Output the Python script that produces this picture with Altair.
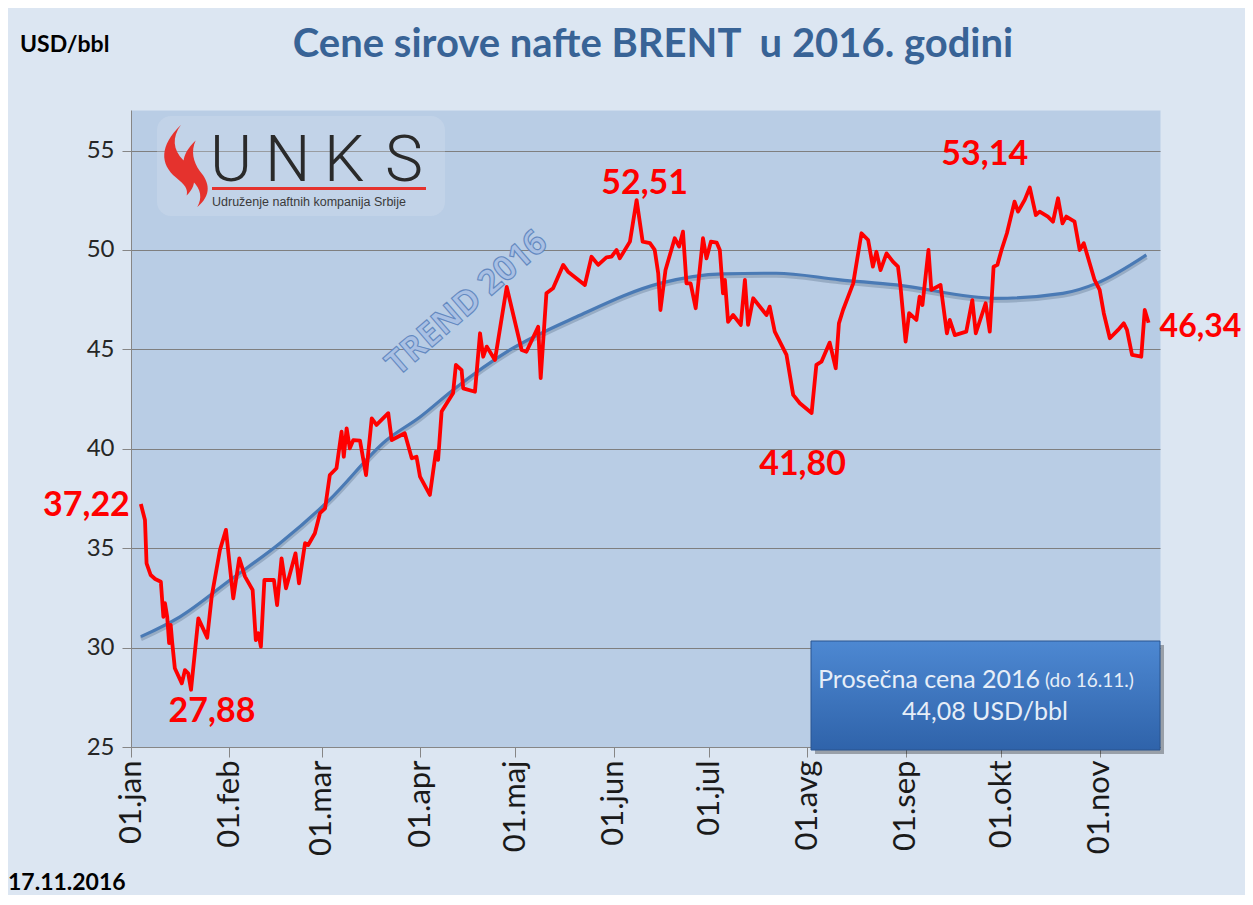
import altair as alt
import pandas as pd

# ---------------- data ----------------
# days after 1 Jan 2016 (vertices of the Brent price line) and USD/bbl
price_day = [3.1, 4.4, 4.9, 6.2, 7.6, 9.4, 10.2, 10.7, 11.4, 12.0, 12.5, 13.0, 13.8, 16.0, 17.0, 18.0, 18.9,
             21.2, 24.0, 25.4, 28.0, 29.9, 32.2, 34.1, 35.9, 38.3, 39.3, 40.1, 40.9, 42.0, 45.0, 46.0, 47.4,
             48.8, 51.8, 52.9, 54.8, 55.8, 57.9, 59.5, 61.1, 62.6, 64.7, 66.3, 67.0, 67.9, 68.9, 70.0, 72.1,
             74.0, 75.8, 77.3, 81.0, 82.1, 86.2, 88.4, 89.9, 91.0, 94.1, 96.0, 96.7, 97.8, 101.4, 102.3, 104.1,
             104.6, 108.3, 109.9, 110.9, 112.0, 114.6, 118.3, 123.0, 124.5, 128.2, 129.0, 130.8, 132.9, 136.1,
             137.6, 142.9, 145.0, 147.1, 149.7, 151.3, 152.9, 153.9, 157.1, 159.2, 161.1, 163.4, 164.9, 166.0,
             166.7, 168.3, 171.2, 172.6, 173.8, 174.9, 176.2, 177.8, 180.1, 181.2, 182.6, 184.4, 185.4, 186.4,
             187.0, 188.0, 189.6, 192.0, 193.3, 194.3, 195.9, 200.1, 201.1, 202.7, 206.4, 208.5, 210.6, 214.3,
             215.8, 217.4, 220.0, 221.9, 222.9, 224.2, 227.4, 230.0, 232.1, 233.6, 234.7, 236.0, 237.9, 239.9,
             241.5, 242.3, 243.9, 245.0, 247.3, 248.3, 249.2, 251.1, 252.0, 254.9, 256.9, 257.8, 259.4, 263.0,
             264.9, 266.0, 269.1, 270.4, 271.6, 272.8, 274.1, 275.8, 278.2, 279.3, 281.4, 283.0, 284.9, 286.1,
             288.7, 290.3, 291.9, 293.3, 294.5, 297.1, 298.7, 300.0, 303.4, 305.0, 306.3, 308.2, 310.8, 312.6,
             313.6, 315.2, 318.1, 319.2, 320.4]
price_usd = [37.22, 36.42, 34.24, 33.65, 33.45, 33.31, 31.55, 32.23, 31.55, 30.22, 31.14, 30.22, 28.96, 28.20,
             28.87, 28.71, 27.88, 31.47, 30.50, 32.56, 34.91, 35.92, 32.48, 34.49, 33.57, 32.90, 30.38, 30.72,
             30.05, 33.40, 33.40, 32.14, 34.49, 32.98, 34.74, 33.23, 35.25, 35.16, 35.75, 36.76, 37.00, 38.68,
             39.02, 40.86, 39.60, 41.03, 40.02, 40.44, 40.41, 38.68, 41.53, 41.20, 41.79, 40.44, 40.78, 39.52,
             39.60, 38.60, 37.68, 39.85, 39.44, 41.87, 42.79, 44.22, 43.96, 43.04, 42.87, 45.81, 44.63, 45.14,
             44.47, 48.14, 44.97, 44.88, 46.14, 43.55, 47.82, 48.07, 49.25, 48.91, 48.24, 49.66, 49.25, 49.63,
             49.66, 50.00, 49.58, 50.42, 52.51, 50.42, 50.34, 50.00, 48.83, 46.98, 48.99, 50.59, 50.17, 50.92,
             48.32, 48.32, 47.07, 50.59, 49.58, 50.42, 50.37, 50.00, 47.82, 48.49, 46.39, 46.73, 46.23, 48.49,
             46.23, 47.57, 46.73, 47.15, 45.89, 44.72, 42.71, 42.29, 41.80, 44.22, 44.38, 45.34, 44.05, 46.31,
             46.98, 48.32, 50.84, 50.50, 49.16, 49.91, 48.99, 49.83, 49.41, 49.16, 48.15, 45.39, 46.82, 46.48,
             47.65, 47.23, 50.00, 47.99, 48.24, 45.81, 46.48, 45.72, 45.89, 47.48, 45.81, 47.32, 45.89, 49.16,
             49.25, 50.00, 50.84, 52.43, 51.93, 52.52, 53.14, 51.76, 51.93, 51.68, 51.42, 52.60, 51.34, 51.68,
             51.42, 50.00, 50.34, 48.49, 47.99, 46.82, 45.56, 45.98, 46.31, 45.98, 44.72, 44.63, 46.98, 46.34]

# polynomial trend line as drawn in the reference
trend_day = [3.1, 15.4, 31.2, 46.9, 62.3, 80.5, 91.0, 101.4, 119.3, 140.3, 166.5, 186.4, 203.2, 223.2,
             241.0, 272.5, 293.4, 304.0, 319.7]
trend_usd = [30.55, 31.55, 33.40, 35.25, 37.40, 40.44, 41.60, 42.96, 44.97, 46.64, 48.32, 48.80, 48.83,
             48.50, 48.24, 47.57, 47.82, 48.32, 49.75]

# annotated extremes (first, min, max, min, max, last)
extreme_day = [3.1, 18.9, 159.2, 214.3, 283.0, 320.4]
extreme_usd = [37.22, 27.88, 52.51, 41.80, 53.14, 46.34]

month_labels = ["jan", "feb", "mar", "apr", "maj", "jun", "jul", "avg", "sep", "okt", "nov", "dec"]
y_ticks = [25, 30, 35, 40, 45, 50, 55]
avg_price = 44.08

title_text = "Cene sirove nafte BRENT\u00a0 u 2016. godini"
unit_text = "USD/bbl"
date_stamp = "17.11.2016"
trend_text = "TREND 2016"
box_line1 = "Prosečna cena 2016"
box_line1b = "(do 16.11.)"
logo_letters = ["U", "N", "K", "S"]
logo_sub = "Udruženje naftnih kompanija Srbije"

# ---------------- helpers ----------------
origin = pd.Timestamp("2016-01-01")


def to_dates(days):
    return [(origin + pd.Timedelta(days=d)).strftime("%Y-%m-%dT%H:%M:%S") for d in days]


def comma(v):
    return f"{v:.2f}".replace(".", ",")


price_df = pd.DataFrame({"date": to_dates(price_day), "usd": price_usd})
trend_df = pd.DataFrame({"date": to_dates(trend_day), "usd": trend_usd})
ext_df = pd.DataFrame({"date": to_dates(extreme_day), "usd": extreme_usd,
                       "label": [comma(v) for v in extreme_usd]})
one = pd.DataFrame({"k": [0]})

W, H = 1029, 637
FONT = "Lato"

x_scale = alt.Scale(domain=[alt.DateTime(year=2016, month=1, date=1),
                            alt.DateTime(year=2016, month=11, date=20)], nice=False)
y_scale = alt.Scale(domain=[25, 57.04], nice=False, zero=False)

month_js = "[" + ",".join(f"'{m}'" for m in month_labels) + "]"
x_axis = alt.Axis(values=[alt.DateTime(year=2016, month=m, date=1) for m in range(1, 12)],
                  labelExpr=f"'01.' + {month_js}[month(datum.value)]",
                  labelAngle=270, labelAlign="right", labelBaseline="middle",
                  labelFont=FONT, labelFontSize=31, labelColor="#1a1a1a", labelPadding=3,
                  labelFlush=False, labelOverlap=False,
                  tickSize=10, tickColor="#868686", domainColor="#868686", grid=False, title=None)
y_axis = alt.Axis(values=y_ticks, labelFont=FONT, labelFontSize=24, labelColor="#262626",
                  labelPadding=8, labelFlush=False, tickSize=9, tickColor="#868686",
                  domainColor="#868686", grid=True, gridColor="#7F7F7F", gridWidth=1, title=None)

X = alt.X("date:T", scale=x_scale, axis=x_axis)
Y = alt.Y("usd:Q", scale=y_scale, axis=y_axis)
Xn = alt.X("date:T", scale=x_scale)
Yn = alt.Y("usd:Q", scale=y_scale)

# ---------------- logo ----------------
flame_path = ("M -0.1,-1 C -0.62,-0.5 -0.62,-0.05 -0.22,0.28 C 0,0.46 0.08,0.56 0.04,0.72 "
              "C 0.36,0.42 0.22,0.1 -0.04,-0.14 C -0.3,-0.4 -0.32,-0.7 -0.1,-1 Z "
              "M 0.26,-0.62 C -0.12,-0.26 -0.12,0.06 0.18,0.36 C 0.4,0.56 0.42,0.8 0.3,1 "
              "C 0.66,0.7 0.6,0.4 0.36,0.12 C 0.2,-0.1 0.14,-0.36 0.26,-0.62 Z")

logo_glow = alt.Chart(one).mark_rect(fill="#D6E1EE", opacity=0.3, cornerRadius=14).encode(
    x=alt.value(26), x2=alt.value(314), y=alt.value(6), y2=alt.value(106))
flame = alt.Chart(one).mark_point(shape=flame_path, filled=True, fill="#E5322D", opacity=1,
                                  strokeWidth=0, size=6724).encode(x=alt.value(54), y=alt.value(56))
letter_x = [79, 134, 193, 254]
logo_layers = [
    alt.Chart(one).mark_text(text=ch, font="Roboto", fontWeight=300, fontSize=64, color="#2A2A2A",
                             align="left", baseline="alphabetic").encode(x=alt.value(lx), y=alt.value(71))
    for ch, lx in zip(logo_letters, letter_x)
]
unks_bar = alt.Chart(one).mark_rect(fill="#E5322D").encode(
    x=alt.value(81), x2=alt.value(295), y=alt.value(77), y2=alt.value(80))
unks_sub = alt.Chart(one).mark_text(text=logo_sub, font="Liberation Sans", fontSize=12.5,
                                    color="#3A3A3A", align="left", baseline="middle").encode(
    x=alt.value(81), y=alt.value(92))

# ---------------- lines ----------------
trend_text_layer = alt.Chart(pd.DataFrame({"date": to_dates([105.8]), "usd": [47.3]})).mark_text(
    text=trend_text, font="Open Sans", fontWeight="bold", fontSize=34, angle=319,
    fill="#A9C0E4", stroke="#5F86BF", strokeWidth=1.1, opacity=0.95).encode(x=Xn, y=Yn)

trend_shadow = alt.Chart(trend_df).mark_line(interpolate="monotone", color="#1F3550", opacity=0.22,
                                             strokeWidth=5, yOffset=2).encode(x=Xn, y=Yn)
trend = alt.Chart(trend_df).mark_line(interpolate="monotone", color="#4A7AB5",
                                      strokeWidth=3.2).encode(x=Xn, y=Yn)
price = alt.Chart(price_df).mark_line(color="#FF0000", strokeWidth=3.8, strokeJoin="round").encode(x=X, y=Y)

# ---------------- extreme labels ----------------
label_offsets = [("right", -11, 2, 34), ("center", 21, 22, 34), ("center", 8, -16, 34),
                 ("center", -9, 52, 34), ("center", -45, -33, 34), ("left", 11, 4, 32)]
label_layers = []
for i, (al, ddx, ddy, fs) in enumerate(label_offsets):
    label_layers.append(
        alt.Chart(ext_df.iloc[[i]]).mark_text(font=FONT, fontWeight="bold", fontSize=fs, color="#FF0000",
                                              align=al, baseline="middle", dx=ddx, dy=ddy).encode(
            x=Xn, y=Yn, text="label:N"))

# ---------------- average box ----------------
box_shadow = alt.Chart(one).mark_rect(fill="#000000", opacity=0.3).encode(
    x=alt.value(684), x2=alt.value(1033), y=alt.value(535), y2=alt.value(644))
box = alt.Chart(one).mark_rect(
    fill=alt.LinearGradient(gradient="linear", x1=0, y1=0, x2=0, y2=1,
                            stops=[alt.GradientStop(color="#4D88D2", offset=0),
                                   alt.GradientStop(color="#2F63AA", offset=1)]),
    stroke="#2A558F", strokeWidth=1).encode(
    x=alt.value(680), x2=alt.value(1029), y=alt.value(531), y2=alt.value(640))
box_t1 = alt.Chart(one).mark_text(text=box_line1, font=FONT, fontSize=25, color="#E6EEF8",
                                  align="right", baseline="middle").encode(x=alt.value(909), y=alt.value(570))
box_t1b = alt.Chart(one).mark_text(text=box_line1b, font=FONT, fontSize=19, color="#E6EEF8",
                                   align="left", baseline="middle").encode(x=alt.value(914), y=alt.value(571))
box_t2 = alt.Chart(one).mark_text(text=comma(avg_price) + " " + unit_text, font=FONT, fontSize=25,
                                  color="#E6EEF8", align="center", baseline="middle").encode(
    x=alt.value(854), y=alt.value(602))

# ---------------- titles / stamps ----------------
title = alt.Chart(one).mark_text(text=title_text, font=FONT, fontWeight="bold", fontSize=40,
                                 color="#386396", align="center", baseline="middle").encode(
    x=alt.value(522), y=alt.value(-65))
unit = alt.Chart(one).mark_text(text=unit_text, font=FONT, fontWeight="bold", fontSize=23,
                                color="#000000", align="left", baseline="middle").encode(
    x=alt.value(-111), y=alt.value(-65))
stamp = alt.Chart(one).mark_text(text=date_stamp, font=FONT, fontWeight="bold", fontSize=23,
                                 color="#000000", align="left", baseline="alphabetic").encode(
    x=alt.value(-123), y=alt.value(780))

chart = alt.layer(
    price.mark_line(opacity=0),  # establishes axes first
    logo_glow, flame, *logo_layers, unks_bar, unks_sub,
    trend_text_layer, trend_shadow, trend, price,
    *label_layers,
    box_shadow, box, box_t1, box_t1b, box_t2,
    title, unit, stamp,
).properties(
    width=W, height=H,
    autosize=alt.AutoSizeParams(type="none"),
    padding={"left": 123, "top": 102, "right": 85, "bottom": 148},
    background="#DCE6F2",
).configure_view(fill="#B9CDE5", stroke="transparent")

chart.save("out.html", embed_options={"renderer": "svg", "actions": False})
